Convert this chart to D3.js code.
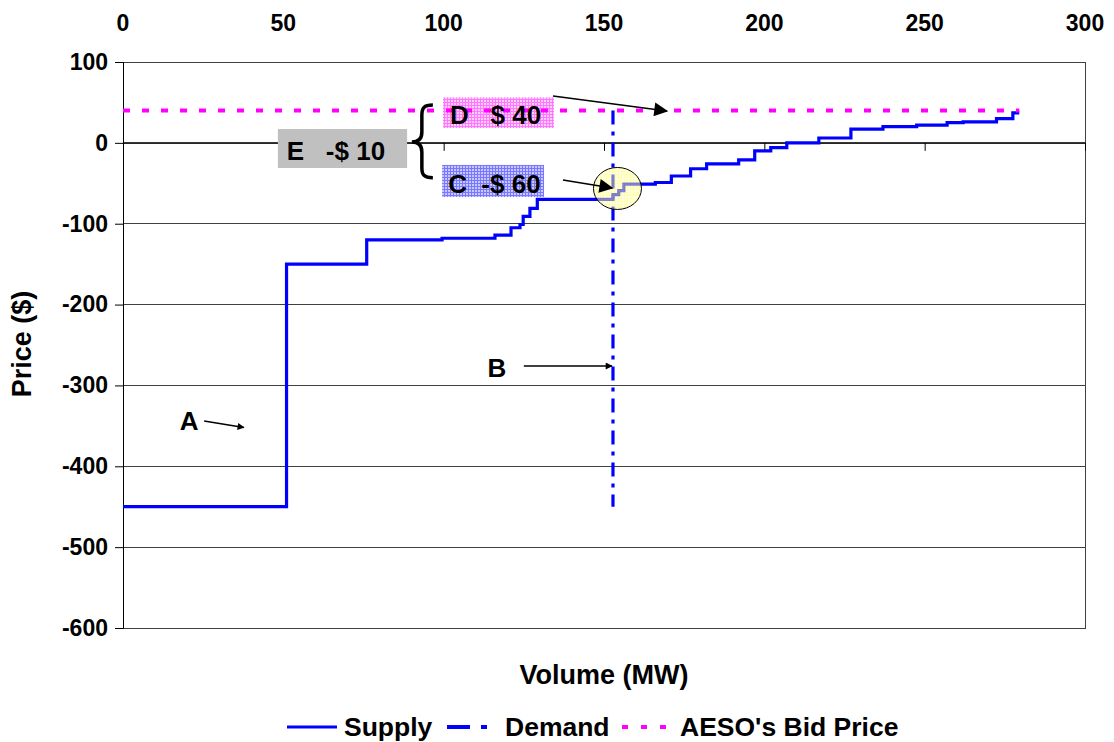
<!DOCTYPE html>
<html><head><meta charset="utf-8">
<script src="https://cdn.jsdelivr.net/npm/d3@7/dist/d3.min.js"></script>
<style>body{margin:0;background:#fff}svg{display:block}text{font-family:"Liberation Sans",Arial,sans-serif;font-weight:bold}</style>
</head><body><svg id="c" width="1114" height="742"></svg>
<script>
const xTicks = [0, 50, 100, 150, 200, 250, 300];
const yTicks = [100, 0, -100, -200, -300, -400, -500, -600];
const supplyVolume = [0, 51, 76, 99.5, 116, 121, 123.8, 124.8, 126.9, 129.2, 152.8, 154.6, 156.2, 166, 171, 177, 182, 192, 197, 202, 207, 217, 227, 237, 247.5, 257, 262, 272.4, 277.5, 279];
const supplyPrice  = [-450, -150, -120, -118, -114, -105, -101, -91, -81, -70, -64, -59, -51, -49, -41, -32, -26, -21, -10, -6, 0, 6, 17, 20, 22, 25, 26, 30, 37, 40];
const demandVolume = [152.8, 152.8];
const demandPrice  = [40, -450];
const bidVolume = [0, 279.5];
const bidPrice  = [40, 40];
const legendLabels = ["Supply", "Demand", "AESO's Bid Price"];

const svg = d3.select("#c");
const L = 123, R = 1085, T = 62, B = 628;
const x = d3.scaleLinear().domain([0, 300]).range([L, R]);
const y = d3.scaleLinear().domain([-600, 100]).range([B, T]);

// patterns
const defs = svg.append("defs");
function grid(id, bg, fg) {
  const p = defs.append("pattern").attr("id", id).attr("width", 3).attr("height", 3).attr("patternUnits", "userSpaceOnUse");
  p.append("rect").attr("width", 3).attr("height", 3).attr("fill", bg);
  p.append("path").attr("d", "M0,0.5H3M0.5,0V3").attr("stroke", fg).attr("stroke-width", 1);
}
grid("pinkG", "#ffd0ff", "#ff77ff");
grid("blueG", "#c8c8ff", "#7777ff");
grid("yelG", "#ffffd0", "#ffff60");
const mk = defs.append("marker").attr("id", "arr").attr("viewBox", "0 0 10 10").attr("refX", 9).attr("refY", 5)
  .attr("markerWidth", 9).attr("markerHeight", 7).attr("orient", "auto").attr("markerUnits", "userSpaceOnUse");
mk.append("path").attr("d", "M0,0L10,5L0,10z").attr("fill", "#000");
const mk2 = defs.append("marker").attr("id", "arr2").attr("viewBox", "0 0 10 10").attr("refX", 9).attr("refY", 5)
  .attr("markerWidth", 22).attr("markerHeight", 14).attr("orient", "auto").attr("markerUnits", "userSpaceOnUse");
mk2.append("path").attr("d", "M0,0L10,5L0,10z").attr("fill", "#000");

// gridlines
svg.append("g").selectAll("line").data(yTicks).join("line")
  .attr("x1", L).attr("x2", R).attr("y1", d => y(d)).attr("y2", d => y(d))
  .attr("stroke", "#404040").attr("stroke-width", 1).attr("shape-rendering", "crispEdges");
svg.append("rect").attr("x", L).attr("y", T).attr("width", R - L).attr("height", B - T)
  .attr("fill", "none").attr("stroke", "#404040").attr("shape-rendering", "crispEdges");

// y axis
const yAxis = svg.append("g").attr("transform", `translate(${L},0)`)
  .call(d3.axisLeft(y).tickValues(yTicks).tickSize(8).tickPadding(7).tickFormat(d => String(d)));
yAxis.select(".domain").attr("stroke", "#000");
yAxis.selectAll("line").attr("stroke", "#000");
yAxis.selectAll("text").attr("font-size", 23).attr("fill", "#000").attr("font-family", "Liberation Sans").attr("font-weight", "bold");

// x axis at price 0, labels at top
const xAxis = svg.append("g").attr("transform", `translate(0,${y(0)})`)
  .call(d3.axisBottom(x).tickValues(xTicks).tickSize(8).tickFormat(""));
xAxis.select(".domain").attr("stroke", "#000").attr("d", `M${L},0.5H${R}`);
xAxis.selectAll("line").attr("stroke", "#000");
svg.append("g").selectAll("text").data(xTicks).join("text")
  .attr("x", d => x(d)).attr("y", 31).attr("text-anchor", "middle").attr("font-size", 23).text(d => d);

// annotation boxes (under lines)
function box(x0, x1, p0, p1, fill) {
  svg.append("rect").attr("x", x(x0)).attr("y", y(p0)).attr("width", x(x1) - x(x0)).attr("height", y(p1) - y(p0)).attr("fill", fill);
}
box(99.8, 134.4, 56.3, 18.4, "url(#pinkG)");
box(48.3, 88.6, 17.1, -31.1, "#c0c0c0");
box(99.5, 131.3, -27.3, -66.9, "url(#blueG)");

// series
const supply = supplyVolume.map((v, i) => [v, supplyPrice[i]]);
svg.append("path").attr("d", d3.line().x(d => x(d[0])).y(d => y(d[1])).curve(d3.curveStepAfter)(supply)).attr("fill", "none")
  .attr("stroke", "#0000ff").attr("stroke-width", 3.2);
const demand = demandVolume.map((v, i) => [v, demandPrice[i]]);
svg.append("path").attr("d", d3.line().x(d => x(d[0])).y(d => y(d[1]))(demand)).attr("fill", "none")
  .attr("stroke", "#0000ff").attr("stroke-width", 3.2).attr("stroke-dasharray", "14,7,4,7");
const bid = bidVolume.map((v, i) => [v, bidPrice[i]]);
svg.append("path").attr("d", d3.line().x(d => x(d[0])).y(d => y(d[1]))(bid)).attr("fill", "none")
  .attr("stroke", "#ff00ff").attr("stroke-width", 4).attr("stroke-dasharray", "7,12");

// ellipse highlight
svg.append("ellipse").attr("cx", x(154.2)).attr("cy", y(-56.4)).attr("rx", 24).attr("ry", 21)
  .attr("fill", "url(#yelG)").attr("fill-opacity", 0.5).attr("stroke", "#000").attr("stroke-width", 1);

// annotation texts
function label(v, p, t, anchor) {
  svg.append("text").attr("x", x(v)).attr("y", y(p)).attr("font-size", 26).attr("text-anchor", anchor || "start")
    .attr("xml:space", "preserve").style("white-space", "pre").text(t);
}
label(20.6, -355, "A", "middle");
label(116.6, -289, "B", "middle");
label(102, 23.4, "D   $ 40");
label(51.1, -21.2, "E   -$ 10");
label(101.4, -62, "C  -$ 60");

function arrow(v0, p0, v1, p1, m) {
  svg.append("line").attr("x1", x(v0)).attr("y1", y(p0)).attr("x2", x(v1)).attr("y2", y(p1))
    .attr("stroke", "#000").attr("stroke-width", 1.5).attr("marker-end", `url(#${m || "arr"})`);
}
arrow(25.3, -344, 37.7, -352);
arrow(125, -276, 152.5, -276);
arrow(134.1, 57.9, 169.6, 39.4, "arr2");
arrow(137.2, -45.9, 152.5, -55.8, "arr2");

// brace
const bx = x(93.2), bTop = y(46.8), bBot = y(-43.1), bMid = y(1);
svg.append("path").attr("fill", "none").attr("stroke", "#000").attr("stroke-width", 3.5)
  .attr("d", `M${bx + 11},${bTop} C${bx + 2},${bTop} ${bx},${bTop + 3} ${bx},${bTop + 10} L${bx},${bMid - 10} C${bx},${bMid - 3} ${bx - 4},${bMid} ${bx - 10},${bMid}
   C${bx - 4},${bMid} ${bx},${bMid + 3} ${bx},${bMid + 10} L${bx},${bBot - 10} C${bx},${bBot - 3} ${bx + 2},${bBot} ${bx + 11},${bBot}`);

// axis titles
svg.append("text").attr("x", 604).attr("y", 684).attr("text-anchor", "middle").attr("font-size", 27).text("Volume (MW)");
svg.append("text").attr("transform", "translate(31,344) rotate(-90)").attr("text-anchor", "middle").attr("font-size", 27).text("Price ($)");

// legend
const lg = svg.append("g");
const ly = 727;
lg.append("line").attr("x1", 287).attr("x2", 337).attr("y1", ly).attr("y2", ly).attr("stroke", "#0000ff").attr("stroke-width", 3);
lg.append("line").attr("x1", 447).attr("x2", 488).attr("y1", ly).attr("y2", ly).attr("stroke", "#0000ff").attr("stroke-width", 4).attr("stroke-dasharray", "23,11,6,50");
lg.append("line").attr("x1", 622).attr("x2", 668).attr("y1", ly).attr("y2", ly).attr("stroke", "#ff00ff").attr("stroke-width", 4).attr("stroke-dasharray", "6,13");
const lx = [344, 505, 680];
lg.selectAll("text").data(legendLabels).join("text").attr("x", (d, i) => lx[i]).attr("y", 736).attr("font-size", 26.5).text(d => d);
</script></body></html>
